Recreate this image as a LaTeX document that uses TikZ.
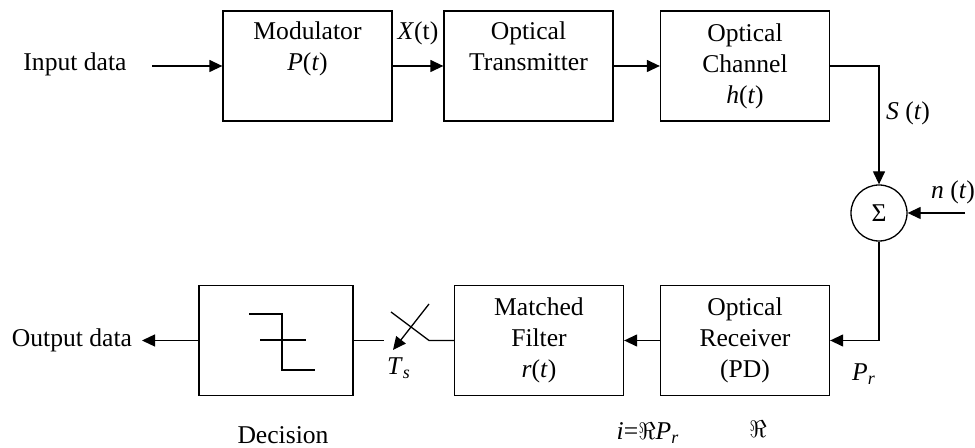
\documentclass[tikz,border=0pt]{standalone}
\usepackage{fontspec}
\setmainfont{Liberation Serif}
\usetikzlibrary{arrows.meta}
\begin{document}
\begin{tikzpicture}[x=0.5pt,y=-0.5pt,
  every node/.style={font=\fontsize{12.8}{15.5}\selectfont},
  blk/.style={draw,line width=0.65pt,minimum width=84.5pt,minimum height=55pt,align=center,inner sep=0pt},
  dblk/.style={blk,minimum width=77pt},
  sumnode/.style={draw,circle,line width=0.65pt,minimum size=28pt,inner sep=0pt},
  lbl/.style={inner sep=0pt},
  conn/.style={line width=0.65pt},
  arr/.style={conn,-{Triangle[length=6.5pt,width=6pt]}}]
\useasboundingbox (0,0) rectangle (975,448);
% blocks
\node[blk] (mod) at (307.5,66) {Modulator\\\textit{P}(\textit{t})\\\strut};
\node[blk] (tx) at (528.5,66) {Optical\\Transmitter\\\strut};
\node[blk] (ch) at (745,66) {Optical\\Channel\\\textit{h}(\textit{t})};
\node[sumnode] (sum) at (879,213) {Σ};
\node[blk] (rx) at (745,340.5) {Optical\\Receiver\\(PD)};
\node[blk] (mf) at (539,340.5) {Matched\\Filter\\\textit{r}(\textit{t})};
\node[dblk] (dec) at (276,340.5) {};
% free ends
\coordinate (inp) at (152,66);
\coordinate (nin) at (965,213);
\coordinate (outp) at (142,340.5);
\coordinate (swr) at (429,340.5);
\coordinate (swt) at (391,312);
\coordinate (swl) at (384,340.5);
\coordinate (ara) at (429,304);
\coordinate (arb) at (393,350);
% texts
\node[lbl] (tin) at (75,64) {Input data};
\node[lbl] (tout) at (72,340) {Output data};
\node[lbl] (tx1) at (418,33) {\textit{X}(t)};
\node[lbl] (ts) at (908,113) {\textit{S} (\textit{t})};
\node[lbl] (tn) at (953,192) {\textit{n} (\textit{t})};
\node[lbl] (tpr) at (864,374) {\textit{P}\textsubscript{\textit{r}}};
\node[lbl] (tre) at (758,429) {$\Re$};
\node[lbl] (ti) at (648,433) {\textit{i}=$\Re$\textit{P}\textsubscript{\textit{r}}};
\node[lbl] (tdec) at (283,435) {Decision};
\node[lbl] (tts) at (399,368) {\textit{T}\textsubscript{\textit{s}}};
% connectors
\draw[arr] (inp) -- (mod);
\draw[arr] (mod) -- (tx);
\draw[arr] (tx) -- (ch);
\draw[arr] (ch.east) -| (sum.north);
\draw[arr] (nin) -- (sum.east);
\draw[arr] (sum.south) |- (rx.east);
\draw[arr] (rx) -- (mf);
\draw[conn] (mf.west) -- (swr) -- (swt);
\draw[conn] (dec.east) -- (swl);
\draw[arr] (ara) -- (arb);
\draw[arr] (dec) -- (outp);
% decision symbol
\draw[conn] (249,314) -- (282,314) -- (282,370) -- (315,370);
\draw[conn] (260,340) -- (306,340);
\end{tikzpicture}
\end{document}
